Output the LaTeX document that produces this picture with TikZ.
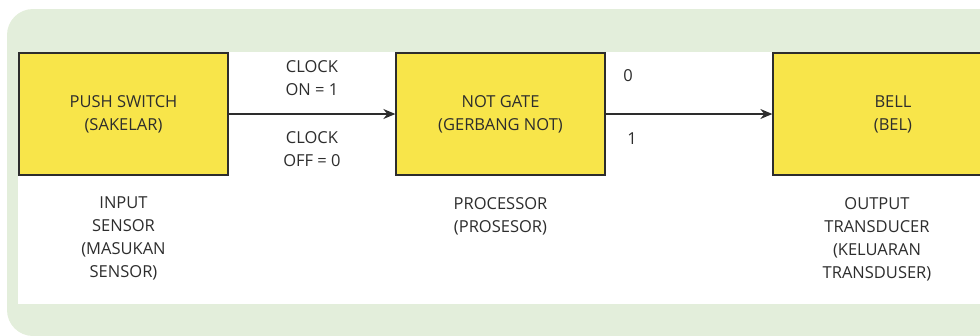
\documentclass[tikz,border=0pt]{standalone}
\usepackage{fontspec}
\setmainfont{Open Sans}
\usetikzlibrary{positioning,arrows.meta}
\definecolor{panelgreen}{RGB}{227,238,219}
\definecolor{boxyellow}{RGB}{248,229,74}
\definecolor{inkgray}{RGB}{45,45,45}
\begin{document}
\begin{tikzpicture}[x=1pt,y=-1pt,
        block/.style={rectangle, draw=inkgray, line width=1.3pt, fill=boxyellow,
            minimum width=209pt, minimum height=122pt, align=center, text=inkgray},
        caption/.style={align=center, text=inkgray},
        signal/.style={draw=inkgray, line width=1.4pt, -{Stealth[length=12pt,width=10pt]}},
        every node/.append style={font=\fontsize{16.5}{23}\selectfont}]
    \useasboundingbox (0,0) rectangle (980,335);
    \clip (0,0) rectangle (980,335);

    % panel
    \fill[panelgreen, rounded corners=26pt] (7,9) rectangle (1010,336);
    \fill[white] (18,52) rectangle (1000,304);

    % blocks
    \node[block] (switch) at (123.5,114) {PUSH SWITCH\\(SAKELAR)};
    \node[block] (notgate) at (500.5,114) {NOT GATE\\(GERBANG NOT)};
    \node[block, minimum width=240pt] (bell) at (893,114) {BELL\\(BEL)};

    % captions
    \node[caption, below=18pt of switch] (input) {INPUT\\SENSOR\\(MASUKAN\\SENSOR)};
    \node[caption, below=18pt of notgate] (proc) {PROCESSOR\\(PROSESOR)};
    \node[caption, below=18pt of bell, xshift=-16pt] (output) {OUTPUT\\TRANSDUCER\\(KELUARAN\\TRANSDUSER)};

    % connectors
    \draw[signal] (switch) -- node[caption, yshift=36pt] (clkon) {CLOCK\\ON = 1}
        node[caption, yshift=-35pt] (clkoff) {CLOCK\\OFF = 0} (notgate);
    \draw[signal] (notgate) -- (bell);
    \node[caption] (zero) at (628,76) {0};
    \node[caption] (one) at (632,139) {1};
\end{tikzpicture}
\end{document}
